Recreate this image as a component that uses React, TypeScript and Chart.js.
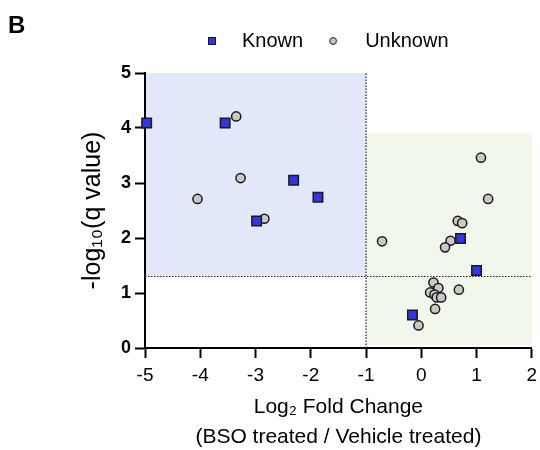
import React, { useEffect, useRef } from "react";
import { Chart, registerables } from "chart.js";

Chart.register(...registerables);

// ---- data ----
const seriesLabels = ["Known", "Unknown"];
const knownX = [-4.97, -3.55, -2.31, -1.87, -2.98, 0.71, 1.0, -0.16];
const knownY = [4.09, 4.09, 3.05, 2.74, 2.31, 1.99, 1.41, 0.6];
const unknownX = [-3.35, -3.27, -4.05, -2.84, 1.08, 1.21, 0.66, 0.74, 0.53, 0.43, -0.71, 0.22, 0.31, 0.16, 0.24, 0.28, 0.36, 0.68, 0.25, -0.05];
const unknownY = [4.21, 3.09, 2.71, 2.35, 3.46, 2.71, 2.31, 2.27, 1.95, 1.83, 1.94, 1.19, 1.09, 1.01, 0.97, 0.92, 0.92, 1.06, 0.71, 0.41];
const xRange = [-5, 2];
const yRange = [0, 5];
const qThreshold = 1.3;
const fcThreshold = -1;
const downRegionX = [-5, -1];
const downRegionY = [1.3, 5];
const upRegionX = [-1, 2];
const upRegionY = [0.05, 3.9];
const xTitle = ["Log\u2082 Fold Change", "(BSO treated / Vehicle treated)"];
const yTitle = "-log\u2081\u2080(q value)";
const panelLabel = "B";

// ---- styles ----
const FONT = '"Liberation Sans", Arial, Helvetica, sans-serif';
const KNOWN_FILL = "rgb(52,52,224)";
const UNKNOWN_FILL = "rgb(200,200,200)";
const EDGE = "#1a1a1a";

function makeMarker(kind: "rect" | "circle"): HTMLCanvasElement {
  const c = document.createElement("canvas");
  c.width = 40;
  c.height = 12;
  const g = c.getContext("2d")!;
  g.lineWidth = 1;
  g.strokeStyle = EDGE;
  if (kind === "rect") {
    g.fillStyle = KNOWN_FILL;
    g.fillRect(6.5, 2.5, 7, 7);
    g.strokeRect(6.5, 2.5, 7, 7);
  } else {
    g.fillStyle = UNKNOWN_FILL;
    g.beginPath();
    g.arc(8, 6, 3.4, 0, Math.PI * 2);
    g.fill();
    g.stroke();
  }
  return c;
}

const regionPlugin = {
  id: "regions",
  beforeDraw(chart: any) {
    const { ctx, scales } = chart;
    const x = scales.x;
    const y = scales.y;
    const fill = (rx: number[], ry: number[], color: string) => {
      const l = x.getPixelForValue(rx[0]);
      const r = x.getPixelForValue(rx[1]);
      const t = y.getPixelForValue(ry[1]);
      const b = y.getPixelForValue(ry[0]);
      ctx.save();
      ctx.fillStyle = color;
      ctx.fillRect(l, t, r - l, b - t);
      ctx.restore();
    };
    fill(downRegionX, downRegionY, "rgb(226,232,249)");
    fill(upRegionX, upRegionY, "rgb(242,247,236)");
  },
};

const legendPlace = {
  id: "legendPlace",
  afterLayout(chart: any) {
    const lg = chart.legend;
    if (!lg) return;
    const w = lg.right - lg.left;
    lg.left = 180;
    lg.right = 180 + w;
    lg.top = -1;
    lg.bottom = 72;
  },
};

export default function App() {
  const ref = useRef<HTMLCanvasElement>(null);

  useEffect(() => {
    if (!ref.current) return;
    Chart.defaults.font.family = FONT;
    Chart.defaults.color = "#000";
    const knownMarker = makeMarker("rect");
    const unknownMarker = makeMarker("circle");

    const thresholdStyle = {
      showLine: true,
      pointRadius: 0,
      borderColor: "#222",
      borderWidth: 1.2,
      borderDash: [1.5, 1.5],
      fill: false,
    };

    const chart = new Chart(ref.current, {
      type: "scatter",
      data: {
        datasets: [
          {
            label: seriesLabels[0],
            data: knownX.map((x, i) => ({ x, y: knownY[i] })),
            pointStyle: "rect",
            pointRadius: 6.7,
            backgroundColor: KNOWN_FILL,
            borderColor: EDGE,
            borderWidth: 1.5,
            clip: false,
          } as any,
          {
            label: seriesLabels[1],
            data: unknownX.map((x, i) => ({ x, y: unknownY[i] })),
            pointStyle: "circle",
            pointRadius: 4.6,
            backgroundColor: UNKNOWN_FILL,
            borderColor: EDGE,
            borderWidth: 1.5,
            clip: false,
          } as any,
          {
            label: "q threshold",
            data: [
              { x: xRange[0], y: qThreshold },
              { x: xRange[1], y: qThreshold },
            ],
            ...thresholdStyle,
          } as any,
          {
            label: "fold change threshold",
            data: [
              { x: fcThreshold, y: yRange[0] },
              { x: fcThreshold, y: yRange[1] },
            ],
            ...thresholdStyle,
          } as any,
        ],
      },
      options: {
        responsive: false,
        animation: false,
        events: [],
        layout: { padding: { top: 11, right: 5, bottom: 0, left: 0 } },
        plugins: {
          tooltip: { enabled: false },
          legend: {
            display: true,
            position: "top",
            align: "start",
            maxHeight: 62,
            labels: {
              usePointStyle: true,
              boxWidth: 20,
              boxHeight: 8,
              padding: 32,
              color: "#000",
              font: { size: 20, family: FONT },
              generateLabels: (c: any) =>
                Chart.defaults.plugins.legend.labels
                  .generateLabels(c)
                  .filter((it: any) => it.datasetIndex < 2)
                  .map((it: any) => ({
                    ...it,
                    pointStyle: it.datasetIndex === 0 ? knownMarker : unknownMarker,
                  })),
            },
          } as any,
        },
        scales: {
          x: {
            type: "linear",
            min: xRange[0],
            max: xRange[1],
            afterFit: (s: any) => {
              s.height = 102;
              s.paddingRight = 0;
            },
            ticks: {
              stepSize: 1,
              padding: 6,
              color: "#000",
              font: { size: 19, family: FONT },
            },
            grid: {
              drawOnChartArea: false,
              drawTicks: true,
              tickLength: 10,
              tickColor: "#000",
              tickWidth: 2,
            },
            border: { display: true, color: "#000", width: 2 },
            title: {
              display: true,
              text: xTitle,
              color: "#000",
              font: { size: 21, family: FONT, lineHeight: 1.43 },
              padding: { top: 0, bottom: -2 },
            },
          },
          y: {
            type: "linear",
            min: yRange[0],
            max: yRange[1],
            afterFit: (s: any) => {
              s.width = 145;
            },
            ticks: {
              stepSize: 1,
              padding: 4,
              color: "#000",
              font: { size: 18, weight: "bold", family: FONT },
            },
            grid: {
              drawOnChartArea: false,
              drawTicks: true,
              tickLength: 10,
              tickColor: "#000",
              tickWidth: 2,
            },
            border: { display: true, color: "#000", width: 2 },
            title: {
              display: true,
              text: yTitle,
              color: "#000",
              font: { size: 25, family: FONT, lineHeight: 1.2 },
              padding: { top: 78, bottom: 0 },
            },
          },
        },
      } as any,
      plugins: [regionPlugin, legendPlace],
    });
    return () => chart.destroy();
  }, []);

  return (
    <div style={{ position: "absolute", left: 0, top: 0, width: 540, height: 450, background: "#fff" }}>
      <canvas ref={ref} width={540} height={450} style={{ display: "block" }} />
      <div
        style={{
          position: "absolute",
          left: 8,
          top: 11,
          fontFamily: FONT,
          fontWeight: "bold",
          fontSize: 24,
          lineHeight: "28px",
          color: "#000",
        }}
      >
        {panelLabel}
      </div>
    </div>
  );
}
